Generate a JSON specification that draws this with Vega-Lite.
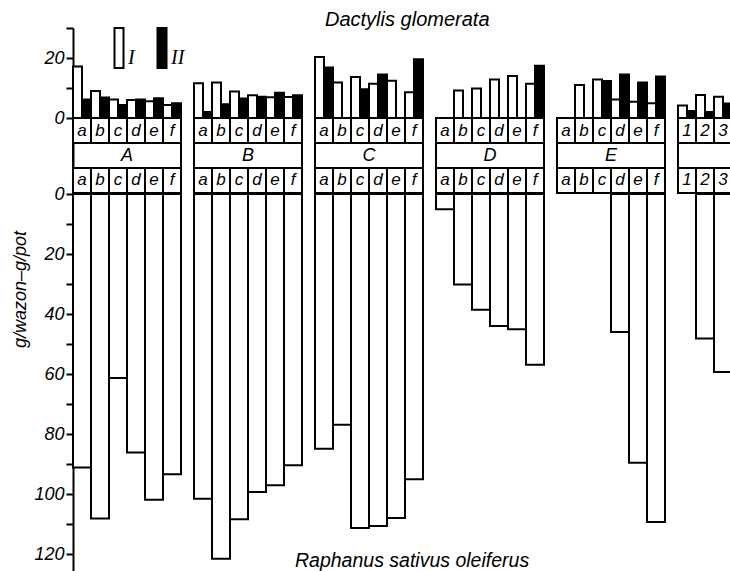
{
  "$schema": "https://vega.github.io/schema/vega-lite/v6.json",
  "padding": {"left": 11, "top": 10, "right": 0, "bottom": 0},
  "background": "white",
  "spacing": -10,
  "config": {
    "view": {"stroke": null},
    "font": "Liberation Sans",
    "axis": {"domainColor": "black", "domainWidth": 2, "tickColor": "black", "tickWidth": 2, "tickSize": 7, "labelFontSize": 18, "labelFontStyle": "italic", "labelColor": "black", "labelPadding": 2, "grid": false, "labelFlush": false, "labelOverlap": false, "labelFont": "Liberation Sans"},
    "title": {"font": "Liberation Sans", "fontStyle": "italic", "fontWeight": "normal", "fontSize": 20, "color": "black"}
  },
  "datasets": {
    "top": [
      {"group": "A", "sub": "a", "series": "I", "value": 17.2}, {"group": "A", "sub": "a", "series": "II", "value": 6.2},
      {"group": "A", "sub": "b", "series": "I", "value": 9.0}, {"group": "A", "sub": "b", "series": "II", "value": 6.8},
      {"group": "A", "sub": "c", "series": "I", "value": 6.2}, {"group": "A", "sub": "c", "series": "II", "value": 4.3},
      {"group": "A", "sub": "d", "series": "I", "value": 6.0}, {"group": "A", "sub": "d", "series": "II", "value": 6.2},
      {"group": "A", "sub": "e", "series": "I", "value": 5.6}, {"group": "A", "sub": "e", "series": "II", "value": 6.6},
      {"group": "A", "sub": "f", "series": "I", "value": 4.3}, {"group": "A", "sub": "f", "series": "II", "value": 4.9},
      {"group": "B", "sub": "a", "series": "I", "value": 11.6}, {"group": "B", "sub": "a", "series": "II", "value": 2.0},
      {"group": "B", "sub": "b", "series": "I", "value": 11.8}, {"group": "B", "sub": "b", "series": "II", "value": 4.6},
      {"group": "B", "sub": "c", "series": "I", "value": 8.8}, {"group": "B", "sub": "c", "series": "II", "value": 6.5},
      {"group": "B", "sub": "d", "series": "I", "value": 7.6}, {"group": "B", "sub": "d", "series": "II", "value": 7.1},
      {"group": "B", "sub": "e", "series": "I", "value": 6.9}, {"group": "B", "sub": "e", "series": "II", "value": 8.4},
      {"group": "B", "sub": "f", "series": "I", "value": 7.0}, {"group": "B", "sub": "f", "series": "II", "value": 7.6},
      {"group": "C", "sub": "a", "series": "I", "value": 20.3}, {"group": "C", "sub": "a", "series": "II", "value": 16.8},
      {"group": "C", "sub": "b", "series": "I", "value": 11.8},
      {"group": "C", "sub": "c", "series": "I", "value": 13.7}, {"group": "C", "sub": "c", "series": "II", "value": 9.6},
      {"group": "C", "sub": "d", "series": "I", "value": 11.4}, {"group": "C", "sub": "d", "series": "II", "value": 14.5},
      {"group": "C", "sub": "e", "series": "I", "value": 12.4},
      {"group": "C", "sub": "f", "series": "I", "value": 8.6}, {"group": "C", "sub": "f", "series": "II", "value": 19.6},
      {"group": "D", "sub": "a", "series": "I", "value": null},
      {"group": "D", "sub": "b", "series": "I", "value": 9.2},
      {"group": "D", "sub": "c", "series": "I", "value": 9.8},
      {"group": "D", "sub": "d", "series": "I", "value": 12.8},
      {"group": "D", "sub": "e", "series": "I", "value": 14.0},
      {"group": "D", "sub": "f", "series": "I", "value": 11.4}, {"group": "D", "sub": "f", "series": "II", "value": 17.4},
      {"group": "E", "sub": "a", "series": "I", "value": null},
      {"group": "E", "sub": "b", "series": "I", "value": 11.0},
      {"group": "E", "sub": "c", "series": "I", "value": 12.8}, {"group": "E", "sub": "c", "series": "II", "value": 12.3},
      {"group": "E", "sub": "d", "series": "I", "value": 6.2}, {"group": "E", "sub": "d", "series": "II", "value": 14.5},
      {"group": "E", "sub": "e", "series": "I", "value": 5.4}, {"group": "E", "sub": "e", "series": "II", "value": 11.8},
      {"group": "E", "sub": "f", "series": "I", "value": 4.9}, {"group": "E", "sub": "f", "series": "II", "value": 13.8},
      {"group": "F", "sub": "1", "series": "I", "value": 4.2}, {"group": "F", "sub": "1", "series": "II", "value": 2.3},
      {"group": "F", "sub": "2", "series": "I", "value": 7.7}, {"group": "F", "sub": "2", "series": "II", "value": 2.0},
      {"group": "F", "sub": "3", "series": "I", "value": 7.1}, {"group": "F", "sub": "3", "series": "II", "value": 4.8}
    ],
    "bottom": [
      {"group": "A", "sub": "a", "value": 91.2}, {"group": "A", "sub": "b", "value": 108.2}, {"group": "A", "sub": "c", "value": 61.3},
      {"group": "A", "sub": "d", "value": 86.2}, {"group": "A", "sub": "e", "value": 101.9}, {"group": "A", "sub": "f", "value": 93.4},
      {"group": "B", "sub": "a", "value": 101.6}, {"group": "B", "sub": "b", "value": 121.6}, {"group": "B", "sub": "c", "value": 108.4},
      {"group": "B", "sub": "d", "value": 99.3}, {"group": "B", "sub": "e", "value": 97.1}, {"group": "B", "sub": "f", "value": 90.4},
      {"group": "C", "sub": "a", "value": 84.9}, {"group": "C", "sub": "b", "value": 76.9}, {"group": "C", "sub": "c", "value": 111.3},
      {"group": "C", "sub": "d", "value": 110.7}, {"group": "C", "sub": "e", "value": 108.0}, {"group": "C", "sub": "f", "value": 95.1},
      {"group": "D", "sub": "a", "value": 5.1}, {"group": "D", "sub": "b", "value": 30.2}, {"group": "D", "sub": "c", "value": 38.6},
      {"group": "D", "sub": "d", "value": 44.0}, {"group": "D", "sub": "e", "value": 45.1}, {"group": "D", "sub": "f", "value": 56.9},
      {"group": "E", "sub": "a", "value": null}, {"group": "E", "sub": "b", "value": null}, {"group": "E", "sub": "c", "value": null},
      {"group": "E", "sub": "d", "value": 46.0}, {"group": "E", "sub": "e", "value": 89.6}, {"group": "E", "sub": "f", "value": 109.3},
      {"group": "F", "sub": "1", "value": null}, {"group": "F", "sub": "2", "value": 48.2}, {"group": "F", "sub": "3", "value": 59.3}
    ]
  },
  "vconcat": [
    {
      "data": {"name": "top"},
      "title": {"text": "Dactylis glomerata", "anchor": "start", "frame": "group", "offset": -11, "dx": 252},
      "facet": {"column": {"field": "group", "type": "nominal", "header": null}},
      "spacing": 13,
      "align": "each",
      "bounds": "flush",
      "resolve": {"scale": {"x": "independent"}},
      "spec": {
        "width": {"step": 18},
        "height": 165,
        "layer": [
          {"transform": [{"filter": "datum.series === 'I'"}],
           "mark": {"type": "rect", "fill": "white", "stroke": "black", "strokeWidth": 2},
           "encoding": {
             "x": {"field": "sub", "type": "nominal", "axis": null, "scale": {"paddingInner": 0, "paddingOuter": 0}},
             "y": {"datum": 0, "type": "quantitative", "scale": {"domain": [-25, 30], "nice": false},
                   "axis": {"values": [0, 10, 20, 30], "labelExpr": "datum.value % 20 === 0 ? datum.label : ''", "title": null}},
             "y2": {"datum": -8.333}}},
          {"transform": [{"filter": "datum.series === 'I'"}],
           "mark": {"type": "text", "fontSize": 17, "fontStyle": "italic", "color": "black"},
           "encoding": {
             "x": {"field": "sub", "type": "nominal"},
             "y": {"datum": -4.167, "type": "quantitative"},
             "text": {"field": "sub"}}},
          {"transform": [{"filter": "datum.series === 'I' && (datum.sub === 'a' || datum.sub === '1')"}],
           "mark": {"type": "rule", "stroke": "black", "strokeWidth": 2},
           "encoding": {
             "x": {"field": "sub", "type": "nominal", "bandPosition": 0},
             "y": {"datum": -8.333, "type": "quantitative"}, "y2": {"datum": -16.667}}},
          {"transform": [{"filter": "datum.series === 'I' && (datum.sub === 'f' || datum.sub === '3')"}],
           "mark": {"type": "rule", "stroke": "black", "strokeWidth": 2},
           "encoding": {
             "x": {"field": "sub", "type": "nominal", "bandPosition": 1},
             "y": {"datum": -8.333, "type": "quantitative"}, "y2": {"datum": -16.667}}},
          {"transform": [{"filter": "datum.series === 'I' && datum.sub === 'c'"}],
           "mark": {"type": "text", "fontSize": 18, "fontStyle": "italic", "color": "black"},
           "encoding": {
             "x": {"field": "sub", "type": "nominal", "bandPosition": 1},
             "y": {"datum": -12.5, "type": "quantitative"},
             "text": {"field": "group"}}},
          {"transform": [{"filter": "datum.series === 'I'"}],
           "mark": {"type": "rect", "fill": "white", "stroke": "black", "strokeWidth": 2},
           "encoding": {
             "x": {"field": "sub", "type": "nominal"},
             "y": {"datum": -16.667, "type": "quantitative"}, "y2": {"datum": -25}}},
          {"transform": [{"filter": "datum.series === 'I'"}],
           "mark": {"type": "text", "fontSize": 17, "fontStyle": "italic", "color": "black"},
           "encoding": {
             "x": {"field": "sub", "type": "nominal"},
             "y": {"datum": -20.833, "type": "quantitative"},
             "text": {"field": "sub"}}},
          {"mark": {"type": "bar", "stroke": "black", "strokeWidth": 2},
           "encoding": {
             "x": {"field": "sub", "type": "nominal"},
             "xOffset": {"field": "series", "type": "nominal", "scale": {"domain": ["I", "II"], "range": [0, 18], "paddingInner": 0, "paddingOuter": 0}},
             "y": {"field": "value", "type": "quantitative"},
             "color": {"field": "series", "type": "nominal", "scale": {"domain": ["I", "II"], "range": ["white", "black"]},
                       "legend": {"orient": "none", "legendX": 25, "legendY": -1, "direction": "horizontal", "title": null,
                                  "symbolType": "M-0.225,-1L0.225,-1L0.225,1L-0.225,1Z", "symbolSize": 1600,
                                  "symbolStrokeColor": "black", "symbolStrokeWidth": 2, "labelOffset": -12, "columnPadding": 6,
                                  "labelBaseline": "top",
                                  "labelFont": "Liberation Serif", "labelFontStyle": "italic", "labelFontSize": 20, "labelColor": "black", "padding": 0}}
           }}
        ]
      }
    },
    {
      "data": {"name": "bottom"},
      "title": {"text": "Raphanus sativus oleiferus", "orient": "bottom", "anchor": "start", "frame": "group", "offset": -20, "dx": 222, "fontSize": 19.5},
      "facet": {"column": {"field": "group", "type": "nominal", "header": null}},
      "spacing": 13,
      "align": "each",
      "bounds": "flush",
      "resolve": {"scale": {"x": "independent"}},
      "spec": {
        "width": {"step": 18},
        "height": 378,
        "layer": [
          {"mark": {"type": "rect", "fill": "white", "opacity": 0},
           "encoding": {"x": {"field": "sub", "type": "nominal", "axis": null, "scale": {"paddingInner": 0, "paddingOuter": 0}}}},
          {"mark": {"type": "bar", "fill": "white", "stroke": "black", "strokeWidth": 2},
           "encoding": {
             "x": {"field": "sub", "type": "nominal", "axis": null},
             "y": {"field": "value", "type": "quantitative", "scale": {"domain": [0, 126], "reverse": true},
                   "axis": {"values": [0, 10, 20, 30, 40, 50, 60, 70, 80, 90, 100, 110, 120], "labelExpr": "datum.value % 20 === 0 ? datum.label : ''",
                            "title": "g/wazon–g/pot", "titleFontSize": 18, "titleFontStyle": "italic", "titleFontWeight": "normal", "titleColor": "black", "titlePadding": 4, "titleY": 95}}
           }}
        ]
      }
    }
  ]
}
